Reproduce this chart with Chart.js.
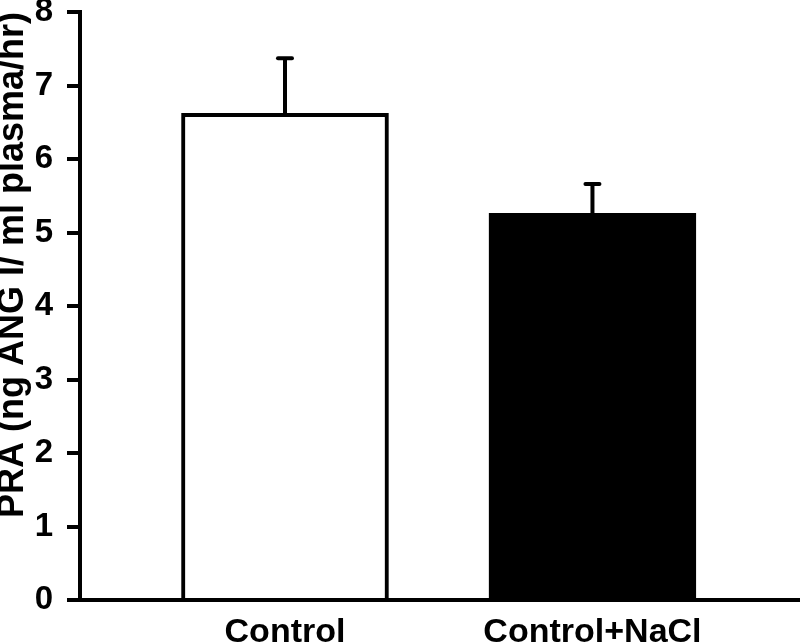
<!DOCTYPE html>
<html>
<head>
<meta charset="utf-8">
<script src="https://cdn.jsdelivr.net/npm/chart.js@4/dist/chart.umd.min.js"></script>
<style>
  html, body { margin: 0; padding: 0; background: #fff; }
  #wrap { width: 800px; height: 642px; }
</style>
</head>
<body>
<div id="wrap"><canvas id="chart-area" width="800" height="642"></canvas></div>
<script>
  // data
  var categories = ['Control', 'Control+NaCl'];
  var positions = [1, 2];
  var means = [6.62, 5.26];
  var errors = [0.75, 0.40];
  var barColors = ['#ffffff', '#000000'];
  var yTicks = [0, 1, 2, 3, 4, 5, 6, 7, 8];
  var yTitle = 'PRA (ng ANG I/ ml plasma/hr)';

  var fontFamily = "'Liberation Sans', Arial, Helvetica, sans-serif";

  // upper error bars (T shape)
  var errorBars = {
    id: 'errorBars',
    afterDatasetsDraw: function (chart) {
      var ctx = chart.ctx;
      var xs = chart.scales.x, ys = chart.scales.y;
      ctx.save();
      ctx.strokeStyle = '#000';
      ctx.lineWidth = 4;
      for (var i = 0; i < means.length; i++) {
        var x = xs.getPixelForValue(positions[i]);
        var y0 = ys.getPixelForValue(means[i]);
        var y1 = ys.getPixelForValue(means[i] + errors[i]);
        ctx.lineCap = 'butt';
        ctx.beginPath();
        ctx.moveTo(x, y0);
        ctx.lineTo(x, y1);
        ctx.stroke();
        ctx.lineCap = 'round';
        ctx.beginPath();
        ctx.moveTo(x - 7, y1);
        ctx.lineTo(x + 7, y1);
        ctx.stroke();
      }
      ctx.restore();
    }
  };

  var ctx = document.getElementById('chart-area').getContext('2d');
  window.prChart = new Chart(ctx, {
    type: 'bar',
    data: {
      datasets: [{
        data: positions.map(function (p, i) { return { x: p, y: means[i] }; }),
        backgroundColor: barColors,
        borderColor: '#000',
        borderWidth: 4,
        barThickness: 207
      }]
    },
    options: {
      responsive: false,
      animation: false,
      devicePixelRatio: 1,
      layout: { padding: { top: 12, left: 0, right: 0, bottom: 0 } },
      plugins: {
        legend: { display: false },
        tooltip: { enabled: false }
      },
      scales: {
        x: {
          type: 'linear',
          offset: false,
          min: 0.3333,
          max: 2.675,
          afterBuildTicks: function (scale) {
            scale.ticks = positions.map(function (p) { return { value: p }; });
          },
          afterFit: function (scale) {
            scale.height = 42;
            scale.paddingLeft = 0;
            scale.paddingRight = 0;
          },
          grid: { display: false },
          border: { display: true, color: '#000', width: 4 },
          ticks: {
            autoSkip: false,
            maxRotation: 0,
            padding: 8,
            color: '#000',
            font: { family: fontFamily, size: 34, weight: 'bold', lineHeight: 1 },
            callback: function (v) {
              var i = positions.indexOf(v);
              return i >= 0 ? categories[i] : '';
            }
          }
        },
        y: {
          min: 0,
          max: 8,
          afterBuildTicks: function (scale) {
            scale.ticks = yTicks.map(function (t) { return { value: t }; });
          },
          afterFit: function (scale) {
            scale.width = 80;
            scale.paddingTop = 0;
            scale.paddingBottom = 0;
          },
          grid: {
            drawOnChartArea: false,
            drawTicks: true,
            tickLength: 13,
            tickWidth: 4,
            color: '#000',
            lineWidth: 4
          },
          border: { display: true, color: '#000', width: 4 },
          ticks: {
            padding: 14,
            color: '#000',
            font: { family: fontFamily, size: 33, weight: 'bold' }
          },
          title: {
            display: true,
            text: yTitle,
            align: 'end',
            color: '#000',
            padding: 0,
            font: { family: fontFamily, size: 36, weight: 'bold', lineHeight: 0.7 }
          }
        }
      }
    },
    plugins: [errorBars]
  });
</script>
</body>
</html>
